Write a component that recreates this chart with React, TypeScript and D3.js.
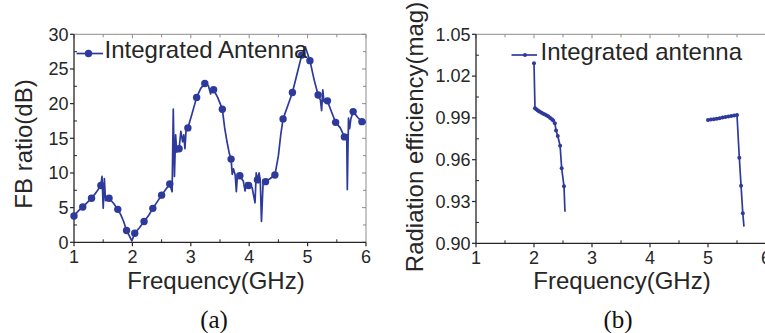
import React from "react";
import * as d3 from "d3";

// ---------- Panel (a): FB ratio ----------
const fbFreq = [1.0, 1.07, 1.15, 1.22, 1.3, 1.38, 1.46, 1.48, 1.5, 1.52, 1.54, 1.6, 1.68, 1.75, 1.8, 1.85, 1.9, 1.95, 1.99, 2.04, 2.12, 2.2, 2.28, 2.35, 2.43, 2.5, 2.57, 2.64, 2.68, 2.7, 2.72, 2.74, 2.76, 2.8, 2.83, 2.86, 2.88, 2.9, 2.92, 2.95, 3.02, 3.1, 3.17, 3.24, 3.3, 3.34, 3.36, 3.39, 3.46, 3.54, 3.58, 3.62, 3.66, 3.69, 3.71, 3.73, 3.76, 3.78, 3.8, 3.84, 3.9, 3.93, 3.95, 3.99, 4.05, 4.1, 4.12, 4.14, 4.17, 4.19, 4.21, 4.24, 4.28, 4.36, 4.44, 4.5, 4.54, 4.58, 4.66, 4.74, 4.82, 4.9, 4.96, 5.04, 5.11, 5.18, 5.22, 5.24, 5.26, 5.28, 5.34, 5.41, 5.48, 5.56, 5.63, 5.67, 5.68, 5.7, 5.72, 5.74, 5.78, 5.86, 5.93, 6.0];
const fbValue = [3.8, 4.5, 5.1, 5.7, 6.35, 7.2, 8.2, 9.5, 4.9, 9.2, 6.0, 6.35, 5.6, 4.75, 4.0, 3.0, 1.7, 0.9, 0.2, 1.3, 2.1, 3.0, 3.9, 4.9, 5.9, 6.8, 7.6, 8.4, 7.3, 19.2, 9.5, 15.5, 13.0, 13.5, 16.0, 14.5, 15.5, 13.5, 16.3, 16.5, 18.5, 20.9, 22.2, 22.9, 22.6, 21.4, 22.2, 22.0, 20.9, 19.2, 16.5, 14.5, 12.8, 12.0, 9.8, 10.6, 9.7, 7.3, 9.9, 9.6, 8.8, 7.4, 8.6, 8.2, 7.9, 5.7, 10.0, 9.0, 10.0, 8.8, 3.0, 9.0, 8.75, 9.2, 9.7, 12.5, 15.5, 17.8, 19.7, 21.6, 24.3, 27.0, 28.2, 26.2, 23.5, 21.25, 20.5, 19.0, 22.0, 20.3, 20.4, 18.8, 17.3, 16.5, 15.2, 15.5, 7.6, 17.9, 16.4, 17.8, 18.85, 18.0, 17.4, 17.3];
const fbMarkerFreq = [1.0, 1.15, 1.3, 1.46, 1.6, 1.75, 1.9, 2.04, 2.2, 2.35, 2.5, 2.64, 2.8, 2.95, 3.1, 3.24, 3.39, 3.54, 3.69, 3.84, 3.99, 4.14, 4.28, 4.44, 4.58, 4.74, 4.9, 5.04, 5.18, 5.34, 5.48, 5.63, 5.78, 5.93];
const fbMarkerValue = [3.8, 5.1, 6.35, 8.2, 6.35, 4.75, 1.7, 1.3, 3.0, 4.9, 6.8, 8.4, 13.5, 16.5, 20.9, 22.9, 22.0, 19.2, 12.0, 9.6, 8.2, 9.0, 8.75, 9.7, 17.8, 21.6, 27.0, 26.2, 21.25, 20.4, 17.3, 15.2, 18.85, 17.4];
const fbYTicks = [0, 5, 10, 15, 20, 25, 30];
const freqTicks = [1, 2, 3, 4, 5, 6];

// ---------- Panel (b): Radiation efficiency ----------
const effLowFreq = [2.0, 2.017, 2.04, 2.06, 2.08, 2.1, 2.13, 2.16, 2.19, 2.22, 2.25, 2.28, 2.31, 2.33, 2.36, 2.38, 2.41, 2.45, 2.477, 2.517, 2.534];
const effLowValue = [1.0292, 0.997, 0.9962, 0.9955, 0.995, 0.9944, 0.9937, 0.993, 0.9925, 0.9918, 0.991, 0.99, 0.989, 0.9882, 0.9862, 0.981, 0.977, 0.97, 0.9538, 0.941, 0.9227];
const effLowMarked = [true, true, true, true, true, true, true, true, true, true, true, true, true, true, true, true, true, true, true, true, false];
const effHighFreq = [5.0, 5.05, 5.1, 5.15, 5.2, 5.25, 5.3, 5.35, 5.4, 5.45, 5.5, 5.54, 5.57, 5.6, 5.62];
const effHighValue = [0.9885, 0.9888, 0.9891, 0.9894, 0.9898, 0.9902, 0.9906, 0.991, 0.9914, 0.9917, 0.9921, 0.9614, 0.9413, 0.9215, 0.912];
const effHighMarked = [true, true, true, true, true, true, true, true, true, true, true, true, true, true, false];
const effYTicks = [0.9, 0.93, 0.96, 0.99, 1.02, 1.05];

const LINE = "#2d3a9c";
const AXIS = "#262626";
const FRAME = "#8c8c8c";
const SANS = "'Liberation Sans', Arial, Helvetica, sans-serif";
const SERIF = "'Liberation Serif', 'Times New Roman', serif";

type FrameProps = {
  x: d3.ScaleLinear<number, number>;
  y: d3.ScaleLinear<number, number>;
  xTicks: number[];
  xMinor: number[];
  yTicks: number[];
  yMinor: number[];
  yFmt: (v: number) => string;
  right: number;
};

function Frame({ x, y, xTicks, xMinor, yTicks, yMinor, yFmt, right }: FrameProps) {
  const [x0, x1] = x.range();
  const [y0, y1] = y.range(); // y0 bottom, y1 top
  return (
    <g>
      <line x1={x0} x2={right} y1={y1} y2={y1} stroke={FRAME} strokeWidth={1} />
      {right <= 765 && <line x1={x1} x2={x1} y1={y1} y2={y0} stroke={FRAME} strokeWidth={1} />}
      {[...xTicks, ...xMinor].map((t, i) => (
        <line key={"tt" + i} x1={x(t)} x2={x(t)} y1={y1} y2={y1 + (i < xTicks.length ? 4 : 3)} stroke={FRAME} strokeWidth={1} />
      ))}
      {right <= 765 &&
        [...yTicks, ...yMinor].map((t, i) => (
          <line key={"rt" + i} x1={x1} x2={x1 - (i < yTicks.length ? 4 : 3)} y1={y(t)} y2={y(t)} stroke={FRAME} strokeWidth={1} />
        ))}
      <line x1={x0} x2={x0} y1={y1} y2={y0} stroke={AXIS} strokeWidth={1.3} />
      {yTicks.map((t, i) => (
        <g key={"yt" + i}>
          <line x1={x0 - 4} x2={x0} y1={y(t)} y2={y(t)} stroke={AXIS} strokeWidth={1.2} />
          <text x={x0 - 5.5} y={y(t) + 6.3} textAnchor="end" fontSize={18} fontFamily={SANS} fill={AXIS}>
            {yFmt(t)}
          </text>
        </g>
      ))}
      {yMinor.map((t, i) => (
        <line key={"ym" + i} x1={x0} x2={x0 + 3} y1={y(t)} y2={y(t)} stroke={AXIS} strokeWidth={1} />
      ))}
      <line x1={x0} x2={right} y1={y0} y2={y0} stroke={AXIS} strokeWidth={1.3} />
      {xTicks.map((t, i) => (
        <g key={"xt" + i}>
          <line x1={x(t)} x2={x(t)} y1={y0} y2={y0 + 4} stroke={AXIS} strokeWidth={1.2} />
          <text x={x(t)} y={y0 + 21} textAnchor="middle" fontSize={18} fontFamily={SANS} fill={AXIS}>
            {String(t)}
          </text>
        </g>
      ))}
      {xMinor.map((t, i) => (
        <line key={"xm" + i} x1={x(t)} x2={x(t)} y1={y0} y2={y0 - 3} stroke={AXIS} strokeWidth={1} />
      ))}
    </g>
  );
}

export default function App() {
  const xa = d3.scaleLinear().domain([1, 6]).range([74, 366]);
  const ya = d3.scaleLinear().domain([0, 30]).range([242.3, 34.3]);
  const lineA = d3
    .line<number>()
    .x((d) => xa(fbFreq[d]))
    .y((d) => ya(fbValue[d]));
  const idxA = fbFreq.map((_, i) => i);

  const xb = d3.scaleLinear().domain([1, 6]).range([476, 766]);
  const yb = d3.scaleLinear().domain([0.9, 1.05]).range([243.3, 34.3]);
  const lineLow = d3
    .line<number>()
    .x((d) => xb(effLowFreq[d]))
    .y((d) => yb(effLowValue[d]));
  const lineHigh = d3
    .line<number>()
    .x((d) => xb(effHighFreq[d]))
    .y((d) => yb(effHighValue[d]));

  const halfTicks = [1.5, 2.5, 3.5, 4.5, 5.5];
  const fbMinor = [2.5, 7.5, 12.5, 17.5, 22.5, 27.5];
  const effMinor = [0.915, 0.945, 0.975, 1.005, 1.035];

  return (
    <svg width={765} height={333} style={{ position: "absolute", left: 0, top: 0, background: "#fff" }}>
      <rect width={765} height={333} fill="#fff" />
      {/* ---------- (a) ---------- */}
      <Frame x={xa} y={ya} xTicks={freqTicks} xMinor={halfTicks} yTicks={fbYTicks} yMinor={fbMinor} yFmt={(v) => String(v)} right={366} />
      <path d={lineA(idxA) || ""} fill="none" stroke={LINE} strokeWidth={1.7} strokeLinejoin="round" />
      {fbMarkerFreq.map((f, i) => (
        <circle key={"ma" + i} cx={xa(f)} cy={ya(fbMarkerValue[i])} r={3.7} fill={LINE} />
      ))}
      <line x1={76.5} x2={103} y1={53.5} y2={53.5} stroke={LINE} strokeWidth={1.7} />
      <circle cx={88.5} cy={53.5} r={3.7} fill={LINE} />
      <text x={104.5} y={57.5} fontSize={24} fontFamily={SANS} fill={AXIS}>
        Integrated Antenna
      </text>
      <text transform="translate(32,144) rotate(-90)" textAnchor="middle" fontSize={24} fontFamily={SANS} fill={AXIS}>
        FB ratio(dB)
      </text>
      <text x={216} y={289} textAnchor="middle" fontSize={24} fontFamily={SANS} fill={AXIS}>
        Frequency(GHz)
      </text>
      <text x={214} y={328} textAnchor="middle" fontSize={25} fontFamily={SERIF} fill="#111">
        (a)
      </text>

      {/* ---------- (b) ---------- */}
      <Frame x={xb} y={yb} xTicks={freqTicks} xMinor={halfTicks} yTicks={effYTicks} yMinor={effMinor} yFmt={(v) => v.toFixed(2)} right={766} />
      <path d={lineLow(effLowFreq.map((_, i) => i)) || ""} fill="none" stroke={LINE} strokeWidth={1.7} strokeLinejoin="round" />
      <path d={lineHigh(effHighFreq.map((_, i) => i)) || ""} fill="none" stroke={LINE} strokeWidth={1.7} strokeLinejoin="round" />
      {effLowFreq.map((f, i) =>
        effLowMarked[i] ? <circle key={"ml" + i} cx={xb(f)} cy={yb(effLowValue[i])} r={2} fill={LINE} /> : null
      )}
      {effHighFreq.map((f, i) =>
        effHighMarked[i] ? <circle key={"mh" + i} cx={xb(f)} cy={yb(effHighValue[i])} r={2} fill={LINE} /> : null
      )}
      <line x1={511.5} x2={537} y1={55} y2={55} stroke={LINE} strokeWidth={1.7} />
      <circle cx={525} cy={55} r={2} fill={LINE} />
      <text x={540.5} y={60} fontSize={24} fontFamily={SANS} fill={AXIS}>
        Integrated antenna
      </text>
      <text transform="translate(423,137) rotate(-90)" textAnchor="middle" fontSize={24} fontFamily={SANS} fill={AXIS}>
        Radiation efficiency(mag)
      </text>
      <text x={622} y={289} textAnchor="middle" fontSize={24} fontFamily={SANS} fill={AXIS}>
        Frequency(GHz)
      </text>
      <text x={618} y={328} textAnchor="middle" fontSize={25} fontFamily={SERIF} fill="#111">
        (b)
      </text>
    </svg>
  );
}
